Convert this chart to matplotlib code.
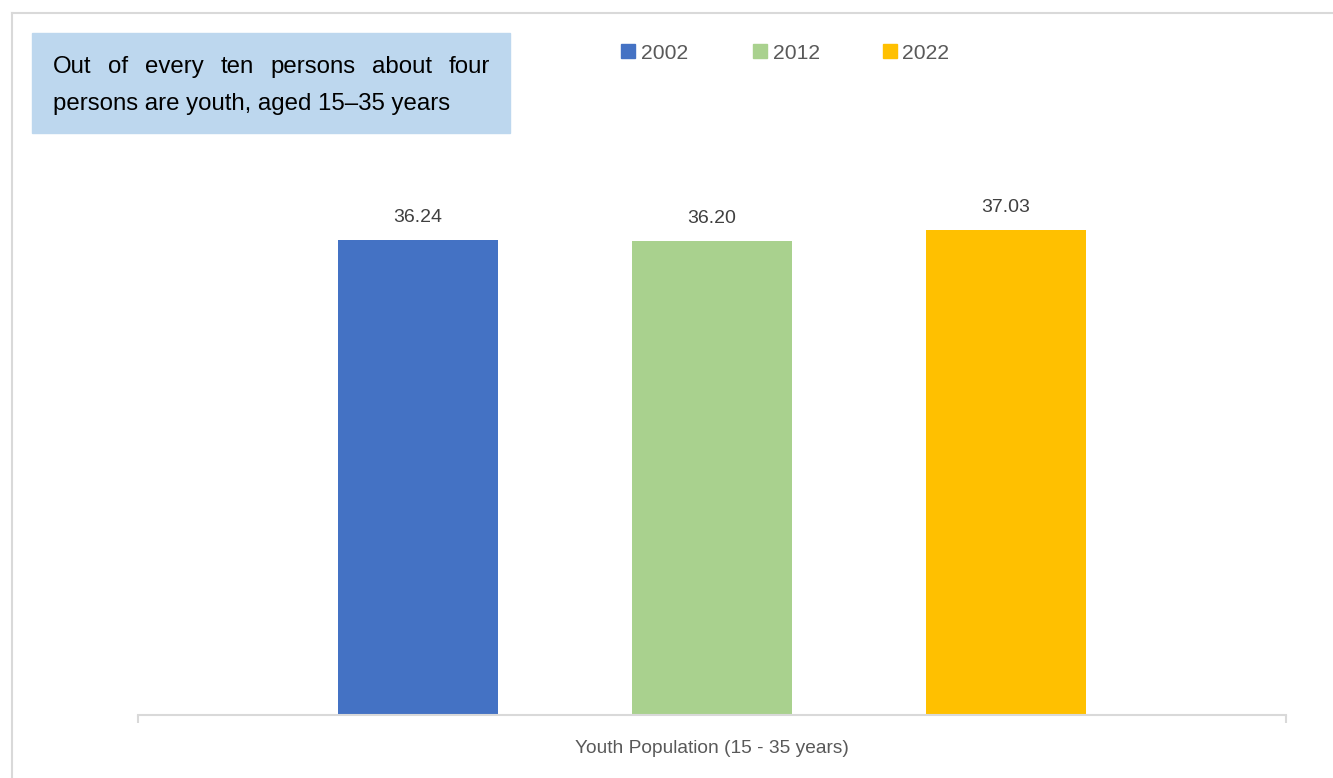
import matplotlib
matplotlib.use("Agg")
import matplotlib.pyplot as plt
from matplotlib.patches import Rectangle

plt.rcParams['font.family'] = ['Liberation Sans', 'DejaVu Sans']

category = "Youth Population (15 - 35 years)"
years = ["2002", "2012", "2022"]
values = [36.24, 36.20, 37.03]
colors = ["#4472C4", "#A9D18E", "#FFC000"]
note_line1 = "Out of every ten persons about four"
note_line2 = "persons are youth, aged 15\u201335 years"

W, H = 1333, 778
fig = plt.figure(figsize=(W / 100, H / 100), dpi=100)

def fx(px):
    return px / W

def fy(py):
    return 1 - py / H

# outer border (top and left visible)
fig.add_artist(plt.Line2D([fx(11.5), 1.0], [fy(13), fy(13)], color="#D9D9D9", lw=1.5))
fig.add_artist(plt.Line2D([fx(11.5), fx(11.5)], [fy(13), 0.0], color="#D9D9D9", lw=1.5))

# axes
ax_left, ax_right, ax_bottom, ax_top = 138, 1286, 715, 160
ax = fig.add_axes([fx(ax_left), fy(ax_bottom), fx(ax_right - ax_left), (ax_bottom - ax_top) / H])
ppu = 13.1
ax.set_ylim(0, (ax_bottom - ax_top) / ppu)
ax.set_xlim(-0.5, 0.5)

offsets = [-0.256, 0.0, 0.256]
width = 0.139
for off, v, c, yr in zip(offsets, values, colors, years):
    b = ax.bar(off, v, width=width, color=c, label=yr)
    ax.bar_label(b, labels=[f"{v:.2f}"], padding=10, fontsize=14, color="#404040")

for s in ["top", "right", "left"]:
    ax.spines[s].set_visible(False)
ax.spines["bottom"].set_color("#D9D9D9")
ax.spines["bottom"].set_linewidth(1.5)
ax.set_yticks([])
ax.set_xticks([0])
ax.set_xticklabels([category], fontsize=13.8, color="#595959")
ax.tick_params(axis="x", which="major", length=0, pad=18)
ax.set_xticks([-0.5, 0.5], minor=True)
ax.tick_params(axis="x", which="minor", length=5.5, width=1.5, color="#D9D9D9", direction="out")

# legend (manual placement)
leg_sq = [621, 753, 883]
for x0, c, yr in zip(leg_sq, colors, years):
    fig.add_artist(Rectangle((fx(x0), fy(58)), fx(14), 14 / H, color=c, transform=fig.transFigure))
    fig.text(fx(x0 + 19.5), fy(59), yr, fontsize=15.2, color="#595959", va="baseline", ha="left")

# note box
fig.add_artist(Rectangle((fx(32), fy(133)), fx(478), 100 / H, color="#BDD7EE", transform=fig.transFigure))
fs_note = 17.3
fig.text(fx(53), fy(110), note_line2, fontsize=fs_note, color="#000000", va="baseline", ha="left")

# justified first line
renderer = fig.canvas.get_renderer()
words = note_line1.split()
texts = [fig.text(0, fy(73), w, fontsize=fs_note, color="#000000", va="baseline", ha="left") for w in words]
widths = [t.get_window_extent(renderer).width for t in texts]
left, right = 53, 490
gap = (right - left - sum(widths)) / (len(words) - 1)
x = left
for t, w in zip(texts, widths):
    t.set_x(fx(x))
    x += w + gap

fig.savefig("out.png", dpi=100)
